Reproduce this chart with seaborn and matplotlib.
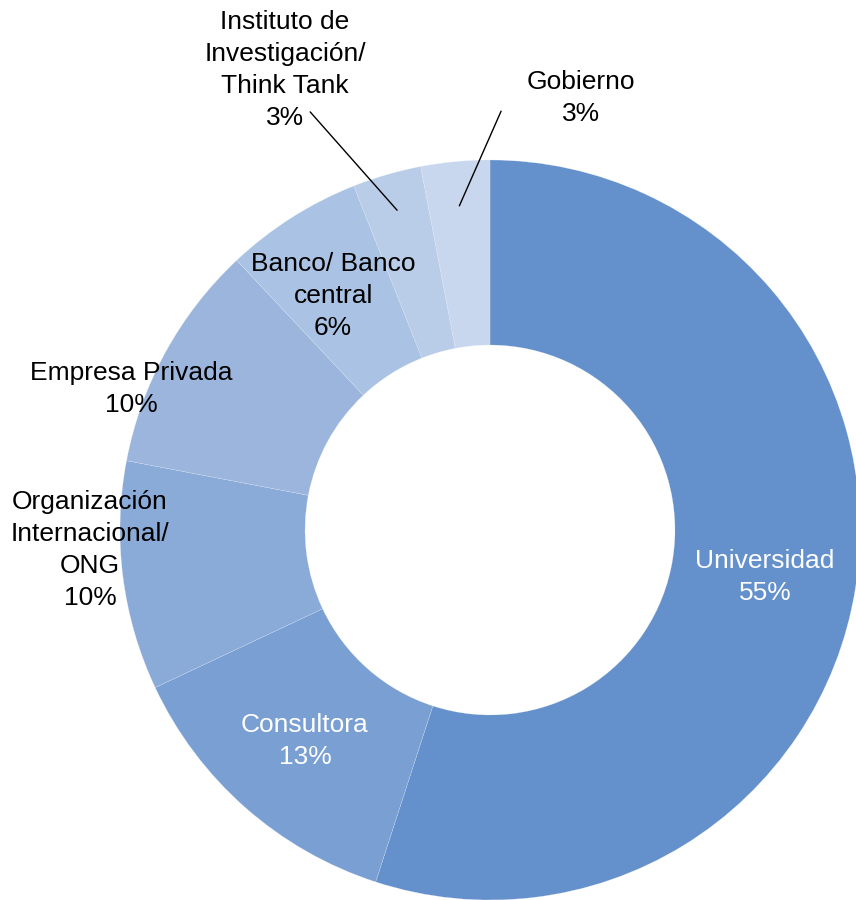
import numpy as np
import matplotlib
matplotlib.use('Agg')
import matplotlib.pyplot as plt
import seaborn as sns

# data
categories = ['Universidad', 'Consultora', 'Organización\nInternacional/\nONG',
              'Empresa Privada', 'Banco/ Banco\ncentral',
              'Instituto de\nInvestigación/\nThink Tank', 'Gobierno']
shares = [55, 13, 10, 10, 6, 3, 3]
colors = ['#6490CB', '#7A9FD3', '#8AAAD8', '#9BB5DD', '#AAC2E3', '#B9CCE8', '#C8D7EE']
text_colors = ['white', 'white', 'black', 'black', 'black', 'black', 'black']

# label placement (layout only), in pie data units
label_xy = [(0.743, -0.127), (-0.500, -0.570), (-1.081, -0.054), (-0.970, 0.381),
            (-0.424, 0.632), (-0.554, 1.243), (0.246, 1.168)]
leader = [False, False, False, False, False, True, True]
leader_end = {5: (-0.486, 1.130), 6: (0.030, 1.132)}
leader_r = {5: 0.90, 6: 0.88}

sns.set_style('white')
plt.rcParams['font.family'] = ['Liberation Sans', 'DejaVu Sans']

fig = plt.figure(figsize=(8.56, 9.0), dpi=100)
ax = fig.add_axes([0, 0, 1, 1])

wedges, _ = ax.pie(shares, colors=colors, startangle=90, counterclock=False,
                   radius=1.0,
                   wedgeprops=dict(width=0.5, edgecolor='#E8EEF7', linewidth=0.15))

for i, w in enumerate(wedges):
    txt = f"{categories[i]}\n{shares[i]}%"
    x, y = label_xy[i]
    ax.text(x, y, txt, ha='center', va='center', fontsize=19,
            color=text_colors[i], linespacing=1.42)
    if leader[i]:
        mid = np.deg2rad((w.theta1 + w.theta2) / 2)
        r0 = leader_r[i]
        ax.plot([r0 * np.cos(mid), leader_end[i][0]],
                [r0 * np.sin(mid), leader_end[i][1]],
                color='black', lw=1.0)

ax.set_xlim(-490 / 370, (856 - 490) / 370)
ax.set_ylim(-(900 - 530) / 370, 530 / 370)
ax.set_aspect('equal')
ax.axis('off')

fig.savefig('out.png', dpi=100)
